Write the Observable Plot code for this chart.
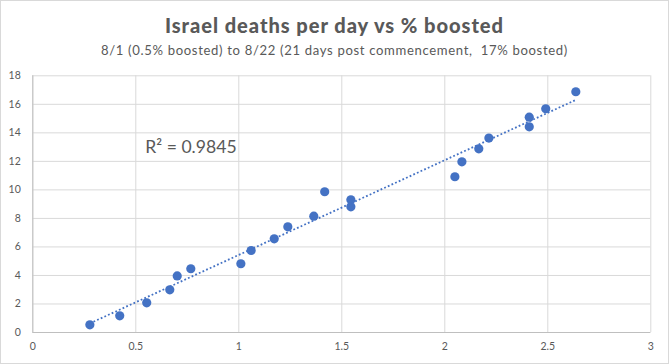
<!DOCTYPE html>
<html><head><meta charset="utf-8">
<script src="https://cdn.jsdelivr.net/npm/d3@7"></script>
<script src="https://cdn.jsdelivr.net/npm/@observablehq/plot@0.6"></script>
<style>
body{margin:0;background:#fff;}
#wrap{position:relative;width:669px;height:364px;overflow:hidden;background:#fff;font-family:Lato,"Open Sans",sans-serif;color:#595959;}
#frame{position:absolute;left:0;top:0;width:667px;height:362px;border:1px solid #d9d9d9;pointer-events:none;}
.t{position:absolute;left:0;width:669px;text-align:center;white-space:nowrap;}
.t span{display:inline-block;}
#title{top:13px;font-size:18.6px;line-height:24px;font-weight:900;}
#subtitle{top:41px;font-size:12.6px;line-height:18px;}
#chart{position:absolute;left:0;top:0;}
</style></head>
<body>
<div id="wrap">
  <div id="chart"></div>
  <div class="t" id="title"><span data-w="339" data-max="1.08">Israel deaths per day vs % boosted</span></div>
  <div class="t" id="subtitle"><span data-w="467" data-max="1.04">8/1 (0.5% boosted) to 8/22 (21 days post commencement,&nbsp; 17% boosted)</span></div>
  <div id="frame"></div>
</div>
<script>
const boosted = [0.277,0.422,0.553,0.665,0.701,0.767,1.010,1.060,1.172,1.238,1.364,1.417,1.544,1.544,2.049,2.083,2.165,2.214,2.410,2.410,2.490,2.636];
const deaths  = [0.54,1.17,2.08,2.99,3.97,4.47,4.82,5.75,6.57,7.41,8.16,9.87,9.31,8.81,10.92,11.97,12.88,13.63,14.42,15.10,15.69,16.88];
const xTicks = [0,0.5,1,1.5,2,2.5,3];
const yTicks = [0,2,4,6,8,10,12,14,16,18];
const r2Label = "R² = 0.9845";

const data = boosted.map((b,i)=>({b, d: deaths[i]}));
const blue = "#4472C4";

const chart = Plot.plot({
  width: 669, height: 364,
  marginLeft: 32.3, marginRight: 18.7, marginTop: 75.3, marginBottom: 32,
  style: {fontFamily: "Lato, 'Open Sans', sans-serif", fontSize: "10.5px", color: "#595959", background: "transparent"},
  x: {domain: [0,3], ticks: xTicks, tickFormat: d => String(d), label: null, tickSize: 0, tickPadding: 10},
  y: {domain: [0,18], ticks: yTicks, tickFormat: d => String(d), label: null, tickSize: 0, tickPadding: 12},
  marks: [
    Plot.gridX(xTicks, {stroke: "#d9d9d9", strokeOpacity: 1}),
    Plot.gridY(yTicks, {stroke: "#d9d9d9", strokeOpacity: 1}),
    Plot.ruleX([0], {stroke: "#bfbfbf"}),
    Plot.ruleY([0], {stroke: "#bfbfbf"}),
    Plot.dot(data, {x: "b", y: "d", r: 4.6, fill: blue, stroke: "none"}),
    Plot.linearRegressionY(data, {x: "b", y: "d", ci: 0, stroke: blue, strokeWidth: 1.8, strokeDasharray: "1.8,2.2", strokeLinecap: "butt"}),
    Plot.text([r2Label], {frameAnchor: "top-left", dx: 112.5, dy: 64.4, textAnchor: "start", fontSize: 17.6, fill: "#595959"})
  ]
});
document.getElementById("chart").appendChild(chart);
document.querySelectorAll(".t span").forEach(s => {
  const target = +s.dataset.w;
  const fs = parseFloat(getComputedStyle(s.parentNode).fontSize);
  let w = s.getBoundingClientRect().width;
  const k = Math.min(+s.dataset.max, target / w);
  s.style.fontSize = (fs * k) + "px";
  w = s.getBoundingClientRect().width;
  s.style.letterSpacing = ((target - w) / s.textContent.length) + "px";
});
</script>
</body></html>
